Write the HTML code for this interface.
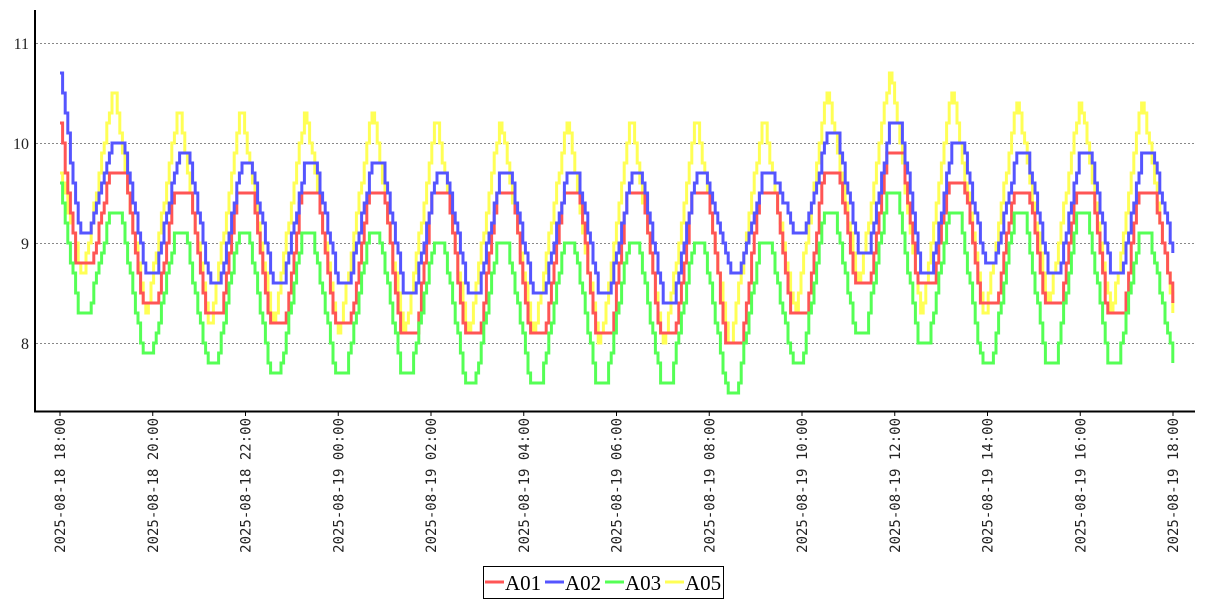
<!DOCTYPE html>
<html><head><meta charset="utf-8"><style>
body{margin:0;background:#fff;width:1207px;height:600px;overflow:hidden}
</style></head><body>
<svg id="s" width="1207" height="600" xmlns="http://www.w3.org/2000/svg" style="font-family:'DejaVu Sans Mono','Liberation Mono',monospace">
<g stroke="#888" stroke-dasharray="2,2" stroke-width="1">
<line x1="36" x2="1195" y1="43.5" y2="43.5"/><line x1="36" x2="1195" y1="143.5" y2="143.5"/>
<line x1="36" x2="1195" y1="243.5" y2="243.5"/><line x1="36" x2="1195" y1="343.5" y2="343.5"/>
</g>
<g font-family="'Liberation Serif',serif" font-size="16" text-anchor="end" fill="#222">
<text x="29" y="49">11</text><text x="29" y="149">10</text><text x="29" y="249">9</text><text x="29" y="349">8</text>
</g>
<g id="series" fill="none" stroke-width="3"></g>
<line x1="35" y1="10" x2="35" y2="412" stroke="#000" stroke-width="2"/>
<line x1="34" y1="411.5" x2="1195" y2="411.5" stroke="#000" stroke-width="2"/>
<g id="ticks"></g>
<rect x="483.5" y="566.5" width="240" height="32" fill="#fff" stroke="#000"/>
<g font-family="'Liberation Serif',serif" font-size="21" fill="#000">
<line x1="485" x2="504" y1="582" y2="582" stroke="#f55" stroke-width="3"/><text x="505" y="590">A01</text>
<line x1="545" x2="564" y1="582" y2="582" stroke="#55f" stroke-width="3"/><text x="565" y="590">A02</text>
<line x1="605" x2="624" y1="582" y2="582" stroke="#5f5" stroke-width="3"/><text x="625" y="590">A03</text>
<line x1="665" x2="684" y1="582" y2="582" stroke="#ff5" stroke-width="3"/><text x="685" y="590">A05</text>
</g>
</svg>
<script>
var NS="http://www.w3.org/2000/svg";
var tk=document.getElementById('ticks');
var labels=["2025-08-18  18:00","2025-08-18  20:00","2025-08-18  22:00","2025-08-19  00:00","2025-08-19  02:00","2025-08-19  04:00","2025-08-19  06:00","2025-08-19  08:00","2025-08-19  10:00","2025-08-19  12:00","2025-08-19  14:00","2025-08-19  16:00","2025-08-19  18:00"];
for(var i=0;i<13;i++){var x=60+i*92.75;
var l=document.createElementNS(NS,'line');l.setAttribute('x1',x);l.setAttribute('x2',x);l.setAttribute('y1',411);l.setAttribute('y2',416);l.setAttribute('stroke','#000');tk.appendChild(l);
var t=document.createElementNS(NS,'text');t.setAttribute('transform','translate('+(x+5)+',418) rotate(-90)');t.setAttribute('text-anchor','end');t.setAttribute('font-size','14');t.setAttribute('fill','#222');t.setAttribute('xml:space','preserve');t.textContent=labels[i];tk.appendChild(t);}
var P=[113,178,241,305,372,436,500,567,631,696,763,827,890,952,1017,1080,1142];
var S={
y:{c:'#ff5',lag:0,w:2,s:9.7,e:8.3,pk:[10.5,10.3,10.3,10.3,10.3,10.2,10.2,10.2,10.2,10.2,10.2,10.5,10.7,10.5,10.4,10.4,10.4],tr:[8.7,8.3,8.2,8.2,8.1,8.1,8.1,8.1,8.0,8.0,8.0,8.3,8.6,8.3,8.3,8.4,8.3]},
r:{c:'#f55',lag:4,w:16,s:10.2,e:8.4,pk:[9.7,9.5,9.5,9.5,9.5,9.5,9.5,9.5,9.5,9.5,9.5,9.7,9.9,9.6,9.5,9.5,9.5],tr:[8.8,8.4,8.3,8.2,8.2,8.1,8.1,8.1,8.1,8.1,8.0,8.3,8.6,8.6,8.4,8.4,8.3]},
b:{c:'#55f',lag:5,w:10,s:10.7,e:8.9,pk:[10.0,9.9,9.8,9.8,9.8,9.7,9.7,9.7,9.7,9.7,9.7,10.1,10.2,10.0,9.9,9.9,9.9],tr:[9.1,8.7,8.6,8.6,8.6,8.5,8.5,8.5,8.5,8.4,8.7,9.1,8.9,8.7,8.8,8.7,8.7]},
g:{c:'#5f5',lag:2,w:10,s:9.6,e:7.8,pk:[9.3,9.1,9.1,9.1,9.1,9.0,9.0,9.0,9.0,9.0,9.0,9.3,9.5,9.3,9.3,9.3,9.1],tr:[8.3,7.9,7.8,7.7,7.7,7.7,7.6,7.6,7.6,7.6,7.5,7.8,8.1,8.0,7.8,7.8,7.8]}
};
var g=document.getElementById('series');
['y','r','b','g'].forEach(function(k){var d=S[k];var h=d.w/2;
var kx=[60],kv=[d.s];
for(var i=0;i<P.length;i++){var px=P[i]+d.lag;var tx=(i==0?82+d.lag/2:(P[i-1]+P[i])/2+d.lag);
kx.push(tx-h);kv.push(d.tr[i]);kx.push(tx+h);kv.push(d.tr[i]);
kx.push(px-h);kv.push(d.pk[i]);kx.push(px+h);kv.push(d.pk[i]);}
kx.push(1173);kv.push(d.e);
function f(x){for(var j=0;j<kx.length-1;j++){if(x<=kx[j+1]){var u=(x-kx[j])/(kx[j+1]-kx[j]);return kv[j]+(kv[j+1]-kv[j])*u;}}return kv[kv.length-1];}
var step=2.6,pts=[],prev=null;
for(var x=60;x<=1174;x+=step){var v=Math.round(f(x)*10)/10;var y=343-(v-8)*100;
if(prev===null){pts.push(x.toFixed(1)+','+y);}else{pts.push(x.toFixed(1)+','+prev);pts.push(x.toFixed(1)+','+y);}prev=y;}
var pl=document.createElementNS(NS,'polyline');pl.setAttribute('points',pts.join(' '));pl.setAttribute('stroke',d.c);g.appendChild(pl);});
</script>
</body></html>
